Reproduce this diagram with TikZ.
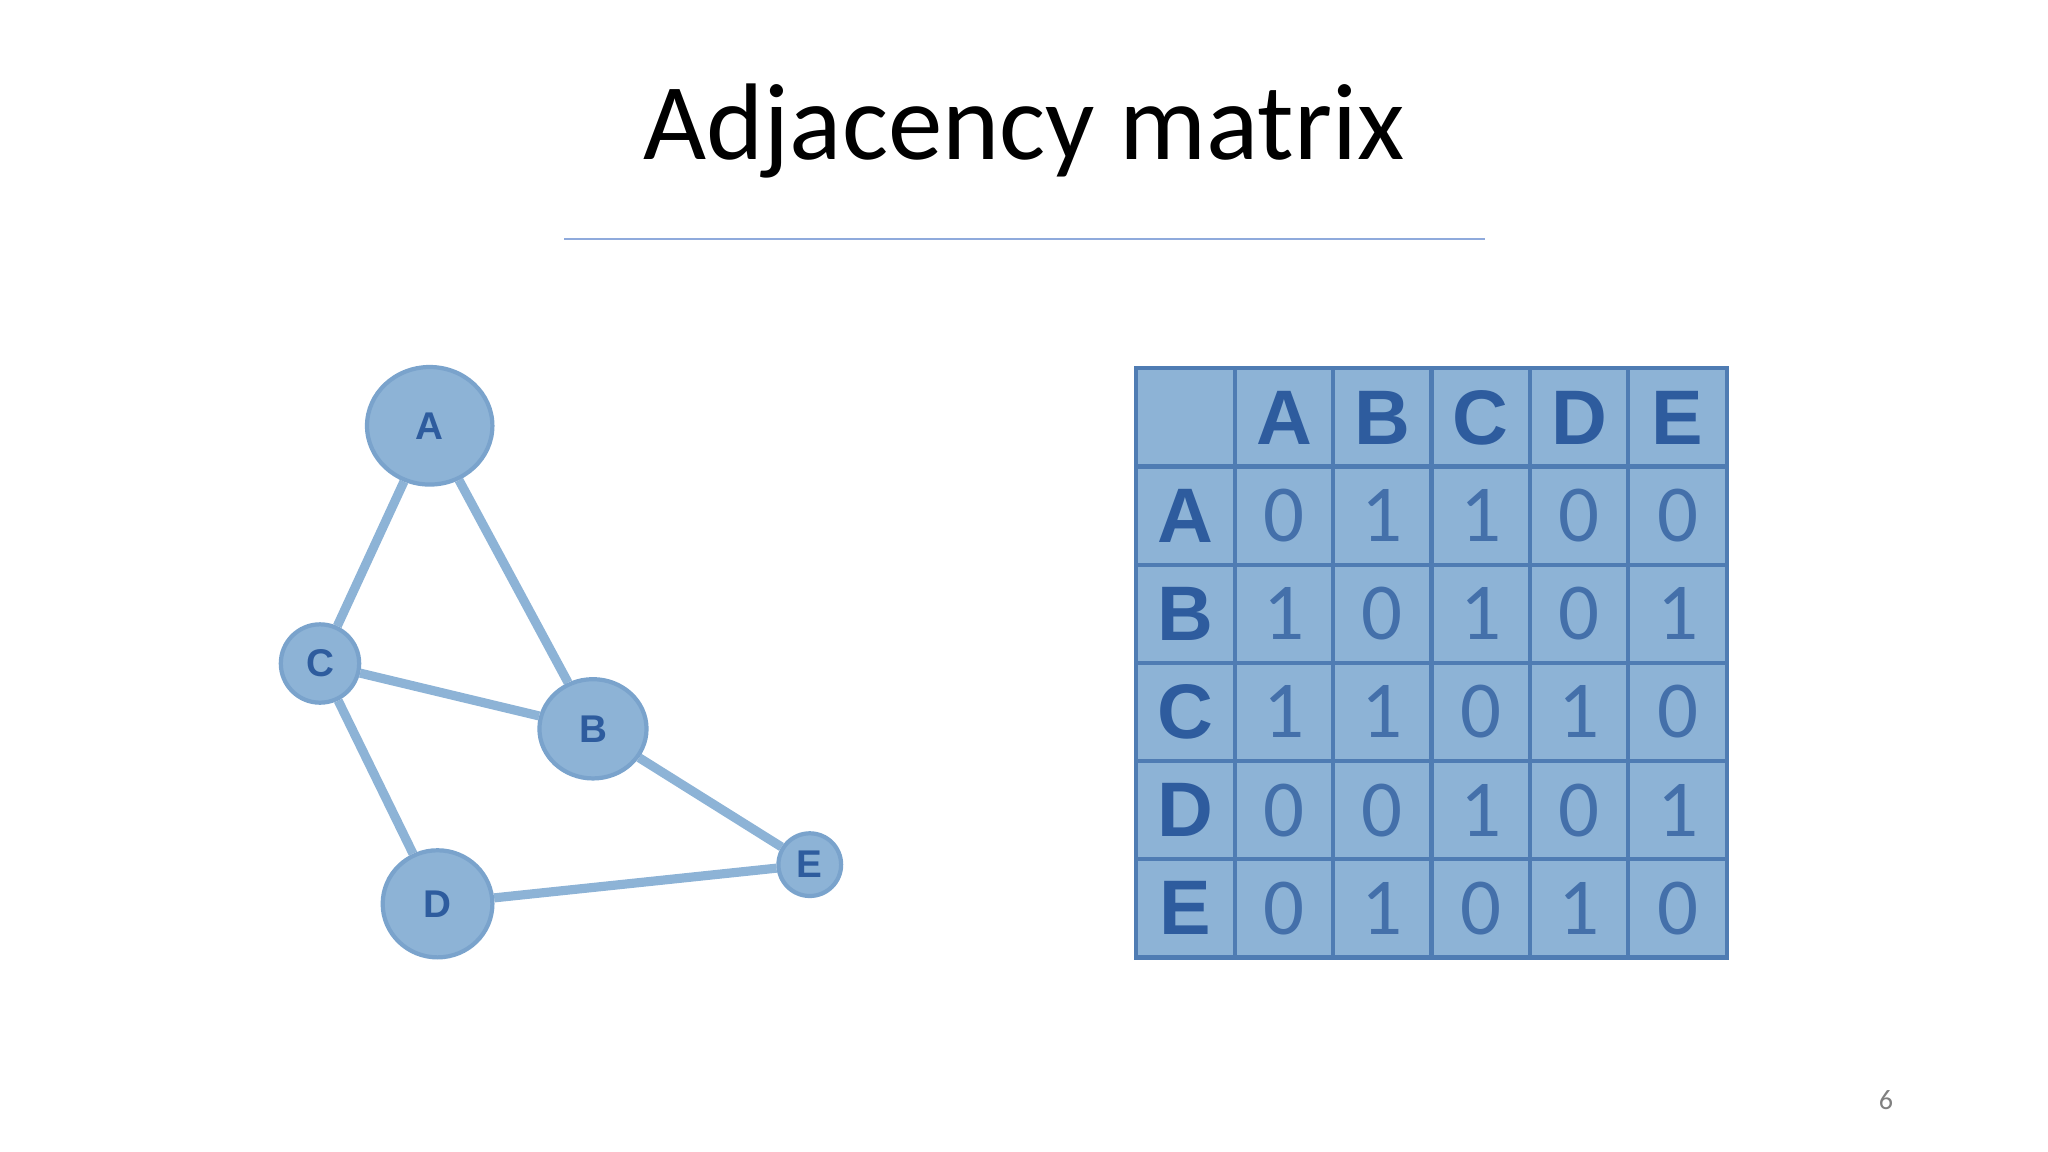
\documentclass[tikz,border=0pt]{standalone}
\usetikzlibrary{shapes.geometric,backgrounds}
\usepackage{fontspec}
\setmainfont{Carlito}
\newfontfamily\hdr{Liberation Sans}
\definecolor{nodefill}{HTML}{8DB3D6}
\definecolor{nodeline}{HTML}{7AA3CC}
\definecolor{edgec}{HTML}{8DB3D6}
\definecolor{tabfill}{HTML}{8DB3D6}
\definecolor{tabline}{HTML}{4F7CB3}
\definecolor{dblue}{HTML}{2E5C9E}
\definecolor{nblue}{HTML}{4470AA}
\definecolor{rule}{HTML}{8FAADC}
\begin{document}
\begin{tikzpicture}[x=0.013061cm,y=-0.013061cm,
  gnode/.style={ellipse,draw=nodeline,line width=1.2pt,fill=nodefill,inner sep=0pt,text=dblue,font=\hdr\bfseries\fontsize{11}{11}\selectfont},
  gedge/.style={draw=edgec,line width=2.6pt},
  cellbox/.style={draw=tabline,line width=1.2pt,fill=tabfill,minimum width=75.3*0.013061cm,minimum height=75.2*0.013061cm,anchor=center,inner sep=0pt},
  hlab/.style={text=dblue,font=\hdr\bfseries\fontsize{22}{22}\selectfont},
  num/.style={text=nblue,font=\fontsize{23}{23}\selectfont}]
\useasboundingbox (0,0) rectangle (1568,882);
\node (title) at (784,100) {\fontsize{31}{31}\selectfont Adjacency matrix};
\coordinate (l1) at (432,183); \coordinate (l2) at (1137,183);
\draw[rule,line width=0.7pt] (l1) -- (l2);
\node[text=gray,font=\fontsize{8}{8}\selectfont] (pg) at (1444,842) {6};
% graph
\node[gnode,minimum width=96*0.013061cm,minimum height=90*0.013061cm] (A) at (329,326) {A};
\node[gnode,minimum width=60*0.013061cm,minimum height=60*0.013061cm] (C) at (245,508) {C};
\node[gnode,minimum width=82*0.013061cm,minimum height=76*0.013061cm] (B) at (454,558) {B};
\node[gnode,minimum width=84*0.013061cm,minimum height=82*0.013061cm] (D) at (335,692) {D};
\node[gnode,minimum width=48*0.013061cm,minimum height=48*0.013061cm] (E) at (620,662) {E};
\begin{pgfonlayer}{background}
\draw[gedge] (A) -- (C);
\draw[gedge] (A) -- (B);
\draw[gedge] (C) -- (B);
\draw[gedge] (C) -- (D);
\draw[gedge] (B) -- (E);
\draw[gedge] (D) -- (E);
\end{pgfonlayer}
% table
\foreach \r/\row in {0/{,A,B,C,D,E},1/{A,0,1,1,0,0},2/{B,1,0,1,0,1},3/{C,1,1,0,1,0},4/{D,0,0,1,0,1},5/{E,0,1,0,1,0}}{
  \foreach \v [count=\c from 0] in \row {
    \pgfmathsetmacro\xx{870+75.33*\c+37.67}
    \pgfmathsetmacro\yy{282+75.17*\r+37.6}
    \ifnum\c=0 \def\st{hlab}\else\ifnum\r=0 \def\st{hlab}\else\def\st{num}\fi\fi
    \node[cellbox] (cell\r\c) at (\xx,\yy) {};
    \node[\st] (txt\r\c) at (\xx,\yy) {\v};
  }
}
\end{tikzpicture}
\end{document}
